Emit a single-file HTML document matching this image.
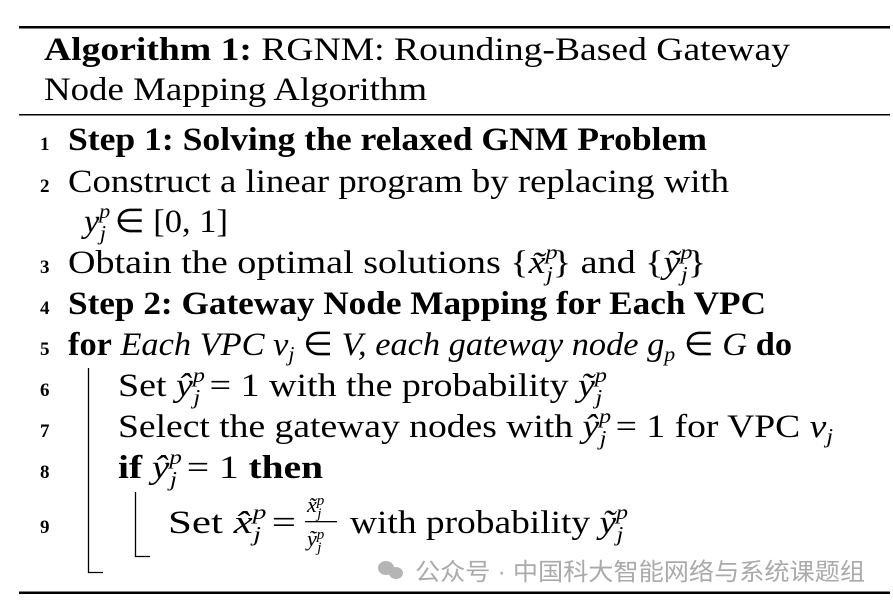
<!DOCTYPE html>
<html><head><meta charset="utf-8"><style>
html,body{margin:0;padding:0;background:#fff;}
svg{display:block;}
text{font-family:"Liberation Serif",serif;fill:#000;}
.n{font-weight:bold;font-size:19px;}
.i{font-style:italic;}
</style></head><body>
<svg width="893" height="606" viewBox="0 0 893 606" xmlns="http://www.w3.org/2000/svg">
<rect x="19" y="26" width="871" height="2.5" fill="#000"/>
<rect x="19" y="114" width="871" height="1.5" fill="#000"/>
<rect x="19" y="591.5" width="871" height="2.5" fill="#000"/>

<text x="44" y="60" font-size="33" textLength="746" lengthAdjust="spacingAndGlyphs"><tspan font-weight="bold">Algorithm 1:</tspan> RGNM: Rounding-Based Gateway</text>
<text x="44" y="100" font-size="33" textLength="383" lengthAdjust="spacingAndGlyphs">Node Mapping Algorithm</text>

<text class="n" x="40" y="150">1</text>
<text x="68" y="150" font-size="33" font-weight="bold" textLength="639" lengthAdjust="spacingAndGlyphs">Step 1: Solving the relaxed GNM Problem</text>

<text class="n" x="40" y="192">2</text>
<text x="68" y="192" font-size="33" textLength="661" lengthAdjust="spacingAndGlyphs">Construct a linear program by replacing with</text>
<text x="84" y="232" font-size="33" textLength="144" lengthAdjust="spacingAndGlyphs"><tspan class="i">y</tspan><tspan font-size="21" class="i" dy="-14">p</tspan><tspan font-size="21" class="i" dx="-10" dy="22">j</tspan><tspan dy="-8"> ∈ [0, 1]</tspan></text>

<text class="n" x="40" y="273">3</text>
<text x="68" y="273" font-size="33" textLength="638" lengthAdjust="spacingAndGlyphs">Obtain the optimal solutions {<tspan class="i">x̃</tspan><tspan font-size="21" class="i" dy="-14">p</tspan><tspan font-size="21" class="i" dx="-10" dy="22">j</tspan><tspan dy="-8">} and {</tspan><tspan class="i">ỹ</tspan><tspan font-size="21" class="i" dy="-14">p</tspan><tspan font-size="21" class="i" dx="-10" dy="22">j</tspan><tspan dy="-8">}</tspan></text>

<text class="n" x="40" y="314">4</text>
<text x="68" y="314" font-size="33" font-weight="bold" textLength="698" lengthAdjust="spacingAndGlyphs">Step 2: Gateway Node Mapping for Each VPC</text>

<text class="n" x="40" y="355">5</text>
<text x="68" y="355" font-size="33" textLength="724" lengthAdjust="spacingAndGlyphs"><tspan font-weight="bold">for</tspan><tspan class="i"> Each VPC v</tspan><tspan class="i" font-size="21" dy="6">j</tspan><tspan dy="-6"> ∈ </tspan><tspan class="i">V, each gateway node g</tspan><tspan class="i" font-size="21" dy="6">p</tspan><tspan dy="-6"> ∈ </tspan><tspan class="i">G</tspan><tspan font-weight="bold"> do</tspan></text>

<text class="n" x="40" y="396">6</text>
<text x="118" y="396" font-size="33" textLength="489" lengthAdjust="spacingAndGlyphs">Set <tspan class="i">ŷ</tspan><tspan font-size="21" class="i" dy="-14">p</tspan><tspan font-size="21" class="i" dx="-10" dy="22">j</tspan><tspan dy="-8"> = 1 with the probability </tspan><tspan class="i">ỹ</tspan><tspan font-size="21" class="i" dy="-14">p</tspan><tspan font-size="21" class="i" dx="-10" dy="22">j</tspan></text>

<text class="n" x="40" y="437">7</text>
<text x="118" y="437" font-size="33" textLength="715" lengthAdjust="spacingAndGlyphs">Select the gateway nodes with <tspan class="i">ŷ</tspan><tspan font-size="21" class="i" dy="-14">p</tspan><tspan font-size="21" class="i" dx="-10" dy="22">j</tspan><tspan dy="-8"> = 1 for VPC </tspan><tspan class="i">v</tspan><tspan class="i" font-size="21" dy="6">j</tspan></text>

<text class="n" x="40" y="478">8</text>
<text x="118" y="478" font-size="33" textLength="205" lengthAdjust="spacingAndGlyphs"><tspan font-weight="bold">if </tspan><tspan class="i">ŷ</tspan><tspan font-size="21" class="i" dy="-14">p</tspan><tspan font-size="21" class="i" dx="-10" dy="22">j</tspan><tspan dy="-8"> = 1 </tspan><tspan font-weight="bold">then</tspan></text>

<text class="n" x="40" y="533">9</text>
<text x="168" y="533" font-size="33" textLength="128" lengthAdjust="spacingAndGlyphs">Set <tspan class="i">x̂</tspan><tspan font-size="21" class="i" dy="-14">p</tspan><tspan font-size="21" class="i" dx="-10" dy="22">j</tspan><tspan dy="-8"> =</tspan></text>
<text x="307" y="512" font-size="22" class="i">x̃<tspan font-size="15" dy="-7">p</tspan><tspan font-size="15" dx="-7" dy="13">j</tspan></text>
<rect x="305" y="521" width="32" height="1.3" fill="#000"/>
<text x="307" y="546" font-size="22" class="i">ỹ<tspan font-size="15" dy="-7">p</tspan><tspan font-size="15" dx="-7" dy="13">j</tspan></text>
<text x="350" y="533" font-size="33" textLength="278" lengthAdjust="spacingAndGlyphs">with probability <tspan class="i">ỹ</tspan><tspan font-size="21" class="i" dy="-14">p</tspan><tspan font-size="21" class="i" dx="-10" dy="22">j</tspan></text>

<path d="M88.5 368 V572.5 H103" fill="none" stroke="#000" stroke-width="1.3"/>
<path d="M135.5 492 V556.5 H150" fill="none" stroke="#000" stroke-width="1.3"/>

<g fill="#b5b5b5">
<ellipse cx="386" cy="568" rx="8" ry="7"/>
<ellipse cx="396" cy="573" rx="7" ry="6"/>
</g>
<text x="415" y="580" font-size="24" style="font-family:'Liberation Sans','Noto Sans CJK SC',sans-serif;fill:#aaaaaa" textLength="450" lengthAdjust="spacingAndGlyphs">公众号 · 中国科大智能网络与系统课题组</text>
</svg>
</body></html>
